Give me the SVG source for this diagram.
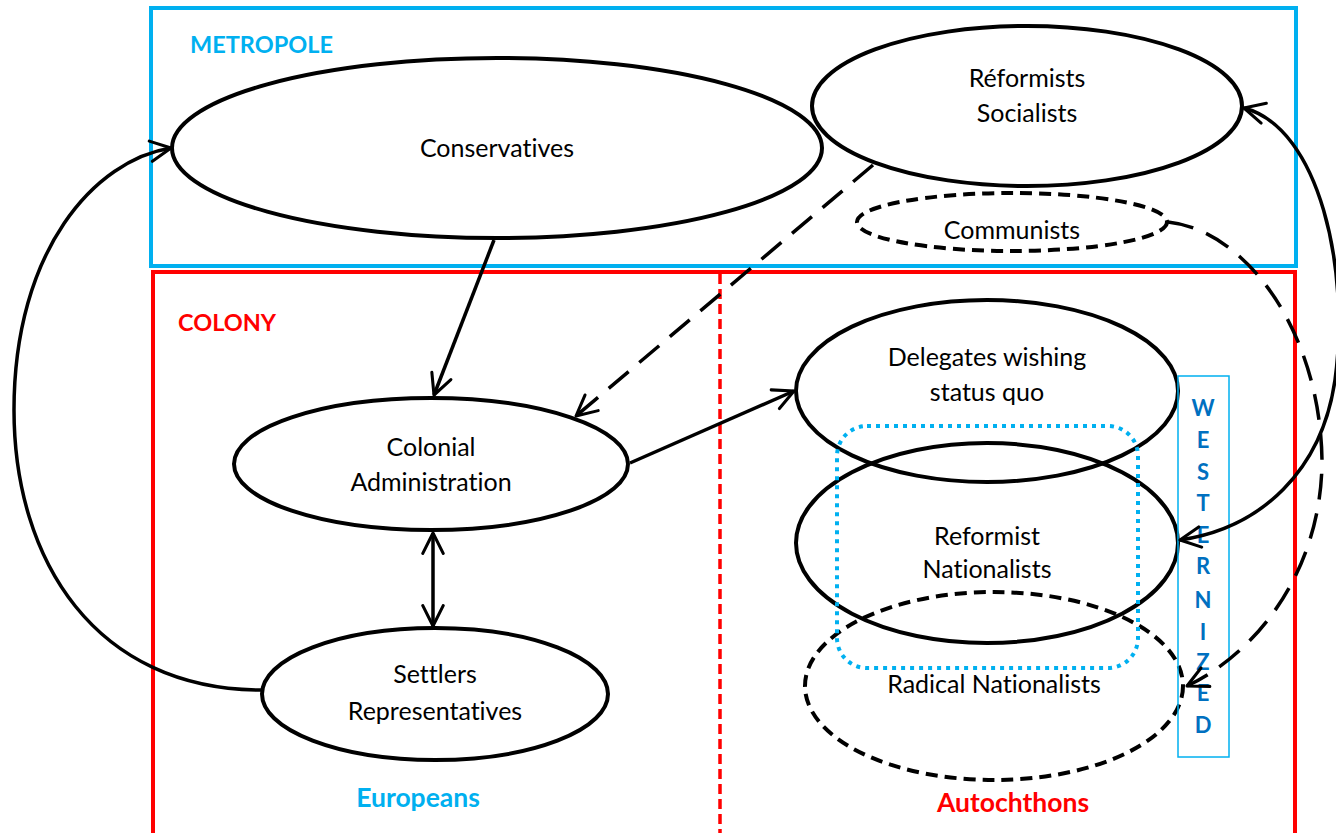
<svg xmlns="http://www.w3.org/2000/svg" width="1336" height="833" viewBox="0 0 1336 833">
<defs>
<marker id="arr" viewBox="0 0 12 12" refX="11" refY="6" markerWidth="7" markerHeight="7" markerUnits="strokeWidth" orient="auto-start-reverse">
<path d="M1,1 L11,6 L1,11" fill="none" stroke="#000" stroke-width="1.5" stroke-linecap="round" stroke-linejoin="round"/>
</marker>
<style>
.node{fill:none;stroke:#000;stroke-width:4}
.dnode{fill:none;stroke:#000;stroke-width:4;stroke-dasharray:12 7}
.t{font-family:Lato,"Open Sans","Liberation Sans",sans-serif;font-size:25px;fill:#000;text-anchor:middle;font-variant-ligatures:none}
.lb{font-family:Lato,"Open Sans","Liberation Sans",sans-serif;font-size:23.5px;font-weight:bold}
.lb2{font-family:Lato,"Open Sans","Liberation Sans",sans-serif;font-size:26.5px;font-weight:bold;text-anchor:middle}
.w{font-family:Lato,"Open Sans","Liberation Sans",sans-serif;font-size:22px;font-weight:bold;fill:#0070C0;text-anchor:middle}
.c{fill:none;stroke:#000;stroke-width:3.5}
.cd{fill:none;stroke:#000;stroke-width:3.5;stroke-dasharray:26 14}
</style>
</defs>
<rect width="1336" height="833" fill="#fff"/>
<g id="metropole">
<rect x="151" y="8" width="1145" height="258" fill="none" stroke="#00B0F0" stroke-width="4"/>
<text class="lb" x="190" y="53" fill="#00B0F0">METROPOLE</text>
</g>
<g id="colony">
<rect x="153" y="272" width="1142" height="600" fill="none" stroke="#FF0000" stroke-width="4"/>
<line x1="720" y1="274" x2="720" y2="833" stroke="#FF0000" stroke-width="3.5" stroke-dasharray="10 5"/>
<text class="lb" x="178" y="331" fill="#FF0000">COLONY</text>
<text class="lb2" x="418" y="807" fill="#00B0F0">Europeans</text>
<text class="lb2" x="1013" y="812" fill="#FF0000">Autochthons</text>
</g>
<g id="conservatives">
<ellipse class="node" cx="497" cy="148" rx="325" ry="90"/>
<text class="t" x="497" y="157">Conservatives</text>
</g>
<g id="reformists-socialists">
<ellipse class="node" cx="1027" cy="106" rx="215" ry="80"/>
<text class="t" x="1027" y="87">Réformists</text>
<text class="t" x="1027" y="122">Socialists</text>
</g>
<g id="communists">
<ellipse class="dnode" cx="1012" cy="222" rx="155" ry="29"/>
<text class="t" x="1012" y="239">Communists</text>
</g>
<g id="colonial-administration">
<ellipse class="node" cx="431" cy="464" rx="197" ry="66"/>
<text class="t" x="431" y="456">Colonial</text>
<text class="t" x="431" y="491">Administration</text>
</g>
<g id="settlers">
<ellipse class="node" cx="435" cy="694" rx="173" ry="66"/>
<text class="t" x="435" y="683">Settlers</text>
<text class="t" x="435" y="720">Representatives</text>
</g>
<g id="delegates">
<ellipse class="node" cx="987" cy="391" rx="191" ry="91"/>
<text class="t" x="987" y="366">Delegates wishing</text>
<text class="t" x="987" y="401">status quo</text>
</g>
<g id="reformist-nationalists">
<ellipse class="node" cx="987" cy="543" rx="191" ry="100"/>
<text class="t" x="987" y="545">Reformist</text>
<text class="t" x="987" y="578">Nationalists</text>
</g>
<g id="radical-nationalists">
<ellipse class="dnode" cx="994" cy="686" rx="189" ry="94"/>
<text class="t" x="994" y="693">Radical Nationalists</text>
</g>
<g id="westernized-group">
<rect x="837" y="426" width="301" height="242" rx="30" fill="none" stroke="#00B0F0" stroke-width="4" stroke-dasharray="4 5"/>
</g>
<g id="westernized">
<rect x="1178" y="376" width="51" height="381" fill="none" stroke="#00B0F0" stroke-width="1.5"/>
<text class="w" x="1203" y="416">W</text>
<text class="w" x="1203" y="448">E</text>
<text class="w" x="1203" y="480">S</text>
<text class="w" x="1203" y="511">T</text>
<text class="w" x="1203" y="543">E</text>
<text class="w" x="1203" y="574">R</text>
<text class="w" x="1203" y="608">N</text>
<text class="w" x="1203" y="640">I</text>
<text class="w" x="1203" y="670">Z</text>
<text class="w" x="1203" y="701">E</text>
<text class="w" x="1203" y="733">D</text>
</g>
<g id="connectors">
<line class="c" x1="494" y1="240" x2="434" y2="395" marker-end="url(#arr)"/>
<line class="cd" x1="873" y1="165" x2="576" y2="416" marker-end="url(#arr)"/>
<line class="c" x1="630" y1="463" x2="794" y2="391" marker-end="url(#arr)"/>
<line class="c" x1="433" y1="533" x2="433" y2="626" marker-start="url(#arr)" marker-end="url(#arr)"/>
<path class="c" d="M262,690 C95,690 14,560 14,410 C14,250 95,160 171,148" marker-end="url(#arr)"/>
<path class="c" d="M1244,108 C1320,128 1350,270 1335,380 C1322,470 1262,528 1180,540" marker-start="url(#arr)" marker-end="url(#arr)"/>
<path class="cd" d="M1168,222 C1245,230 1320,330 1322,460 C1322,565 1262,650 1187,686" marker-end="url(#arr)"/>
</g>
</svg>
